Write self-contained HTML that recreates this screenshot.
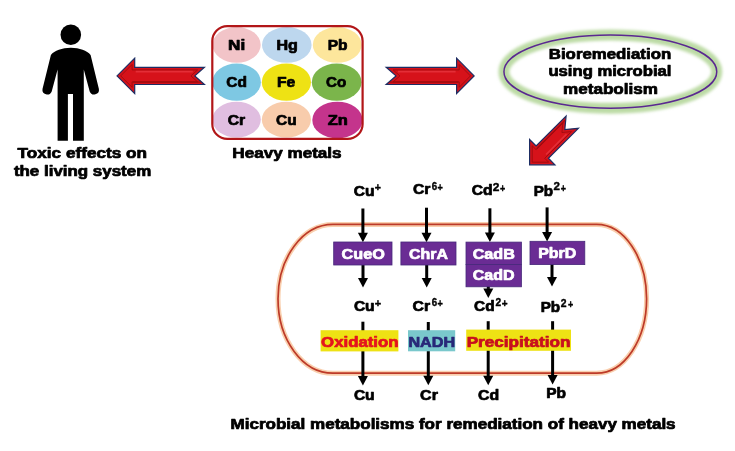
<!DOCTYPE html>
<html><head><meta charset="utf-8">
<style>
html,body{margin:0;padding:0;background:#fff;}
svg{display:block;will-change:transform;}
text{font-family:"Liberation Sans",sans-serif;font-weight:bold;}
</style></head>
<body>
<svg width="735" height="451" viewBox="0 0 735 451">
<defs>
<filter id="glowg" x="-20%" y="-40%" width="140%" height="180%"><feGaussianBlur stdDeviation="1.7"/></filter>
<filter id="glowo" x="-10%" y="-20%" width="120%" height="140%"><feGaussianBlur stdDeviation="0.7"/></filter>
</defs>
<rect width="735" height="451" fill="#fff"/>

<!-- person -->
<circle cx="70.8" cy="34.7" r="10.3" fill="#000"/>
<path d="M70.8,47.8 C62,47.8 54.5,50.8 50.9,54.9 L42.5,88.9 A4.8,4.8 0 0 0 51.7,91.4 L57.6,69.5 L57.6,140.8 L67.9,140.8 L67.9,94.1 L73,94.1 L73,140.8 L83.8,140.8 L83.8,69.5 L89.7,91.4 A4.8,4.8 0 0 0 98.9,88.9 L90.6,54.9 C87,50.8 79.6,47.8 70.8,47.8 Z" fill="#000"/>


<!-- heavy metals box -->
<g>
<clipPath id="boxclip"><rect x="212.3" y="26.1" width="150.3" height="112.8" rx="15" ry="15"/></clipPath>
<g clip-path="url(#boxclip)">
<ellipse cx="236.6" cy="44.95" rx="24.1" ry="17.9" fill="#f2c4c8"/>
<ellipse cx="286.8" cy="44.95" rx="24.8" ry="17.9" fill="#bdd7ee"/>
<ellipse cx="337.2" cy="44.95" rx="24.4" ry="17.9" fill="#fde69c"/>
<ellipse cx="236.65" cy="82.15" rx="24.25" ry="18.65" fill="#7ec8e3"/>
<ellipse cx="286.4" cy="82.15" rx="24.6" ry="18.65" fill="#eee214"/>
<ellipse cx="336.65" cy="82.15" rx="24.85" ry="18.65" fill="#7bb54b"/>
<ellipse cx="236.6" cy="119.6" rx="24.2" ry="17.9" fill="#e0bee0"/>
<ellipse cx="286.4" cy="119.6" rx="24.6" ry="17.9" fill="#f8ccac"/>
<ellipse cx="337.4" cy="120.1" rx="25.1" ry="18.4" fill="#c4348c"/>
</g>
<rect x="212.3" y="26.1" width="150.3" height="112.8" rx="15" ry="15" fill="none" stroke="#b21618" stroke-width="2.2"/>
</g>

<!-- ellipse bioremediation -->
<ellipse cx="610.35" cy="71.7" rx="106.4" ry="36.6" fill="none" stroke="#bddba6" stroke-width="11" filter="url(#glowg)"/>
<ellipse cx="610.35" cy="71.7" rx="106.4" ry="36.6" fill="none" stroke="#bcdaa6" stroke-width="5"/>
<ellipse cx="610.35" cy="71.7" rx="106.4" ry="36.6" fill="none" stroke="#5a2890" stroke-width="1.5"/>

<polygon points="117.00,75.90 134.70,93.60 134.70,84.50 204.40,84.50 194.80,75.90 204.40,67.30 134.70,67.30 134.70,58.20" fill="#d6121a" stroke="#1d2d63" stroke-width="1.2" stroke-linejoin="miter"/><polygon points="120.68,75.90 132.10,87.32 132.10,81.90 197.60,81.90 190.90,75.90 197.60,69.90 132.10,69.90 132.10,64.48" fill="none" stroke="#9a0a0e" stroke-width="1" stroke-opacity="0.85"/><line x1="135.70" y1="71.60" x2="192.80" y2="71.60" stroke="#ea3a44" stroke-width="1.6" stroke-opacity="0.7"/><line x1="133.20" y1="82.20" x2="200.90" y2="82.20" stroke="#9a0a0e" stroke-width="1.3" stroke-opacity="0.8"/>
<polygon points="474.10,75.90 456.60,58.20 456.60,67.30 386.20,67.30 396.00,75.90 386.20,84.50 456.60,84.50 456.60,93.60" fill="#d6121a" stroke="#1d2d63" stroke-width="1.2" stroke-linejoin="miter"/><polygon points="470.44,75.90 459.20,64.53 459.20,69.90 393.10,69.90 399.94,75.90 393.10,81.90 459.20,81.90 459.20,87.27" fill="none" stroke="#9a0a0e" stroke-width="1" stroke-opacity="0.85"/><line x1="455.60" y1="71.60" x2="398.00" y2="71.60" stroke="#ea3a44" stroke-width="1.6" stroke-opacity="0.7"/><line x1="458.10" y1="82.20" x2="389.70" y2="82.20" stroke="#9a0a0e" stroke-width="1.3" stroke-opacity="0.8"/>
<polygon points="529.60,164.80 554.91,164.80 548.41,158.29 578.39,128.31 564.81,129.59 566.09,116.01 536.11,145.99 529.60,139.49" fill="#d6121a" stroke="#1d2d63" stroke-width="1.2" stroke-linejoin="miter"/><polygon points="532.20,162.20 548.64,162.20 544.73,158.29 571.45,131.58 561.93,132.47 562.82,122.95 536.11,149.67 532.20,145.76" fill="none" stroke="#9a0a0e" stroke-width="1" stroke-opacity="0.85"/><line x1="546.08" y1="154.55" x2="566.51" y2="134.11" stroke="#ea3a44" stroke-width="1.6" stroke-opacity="0.7"/><line x1="536.67" y1="148.68" x2="565.24" y2="120.11" stroke="#9a0a0e" stroke-width="1.3" stroke-opacity="0.8"/>

<path d="M333,224.4 L596.6,224.4 A50,74.4 0 0 1 596.6,373.2 L333,373.2 A55,74.4 0 0 1 333,224.4 Z" fill="none" stroke="#f9cfae" stroke-width="5" filter="url(#glowo)"/>
<path d="M333,224.4 L596.6,224.4 A50,74.4 0 0 1 596.6,373.2 L333,373.2 A55,74.4 0 0 1 333,224.4 Z" fill="none" stroke="#bd3a28" stroke-width="1.7"/>
<line x1="362.9" y1="321.7" x2="362.9" y2="376.6" stroke="#000" stroke-width="3"/><polygon points="357.9,376.1 367.9,376.1 362.9,385.6" fill="#000"/>
<line x1="428.3" y1="322" x2="428.3" y2="376.2" stroke="#000" stroke-width="3"/><polygon points="423.3,375.7 433.3,375.7 428.3,385.2" fill="#000"/>
<line x1="488.2" y1="321.2" x2="488.2" y2="376.2" stroke="#000" stroke-width="3"/><polygon points="483.2,375.7 493.2,375.7 488.2,385.2" fill="#000"/>
<line x1="552.6" y1="321.2" x2="552.6" y2="375.6" stroke="#000" stroke-width="3"/><polygon points="547.6,375.1 557.6,375.1 552.6,384.6" fill="#000"/>
<line x1="362.9" y1="208.5" x2="362.9" y2="233.2" stroke="#000" stroke-width="3"/><polygon points="357.9,232.7 367.9,232.7 362.9,242.2" fill="#000"/>
<line x1="426.5" y1="207.7" x2="426.5" y2="233.2" stroke="#000" stroke-width="3"/><polygon points="421.5,232.7 431.5,232.7 426.5,242.2" fill="#000"/>
<line x1="489.9" y1="208.3" x2="489.9" y2="233.0" stroke="#000" stroke-width="3"/><polygon points="484.9,232.5 494.9,232.5 489.9,242" fill="#000"/>
<line x1="547.1" y1="207.4" x2="547.1" y2="232.4" stroke="#000" stroke-width="3"/><polygon points="542.1,231.9 552.1,231.9 547.1,241.4" fill="#000"/>
<line x1="363" y1="264" x2="363" y2="278.4" stroke="#000" stroke-width="3"/><polygon points="358.0,277.9 368.0,277.9 363,287.4" fill="#000"/>
<line x1="426.7" y1="264" x2="426.7" y2="278.4" stroke="#000" stroke-width="3"/><polygon points="421.7,277.9 431.7,277.9 426.7,287.4" fill="#000"/>
<line x1="488.3" y1="286" x2="488.3" y2="288.9" stroke="#000" stroke-width="3"/><polygon points="483.3,288.4 493.3,288.4 488.3,297.9" fill="#000"/>
<line x1="552" y1="264" x2="552" y2="277.4" stroke="#000" stroke-width="3"/><polygon points="547.0,276.9 557.0,276.9 552,286.4" fill="#000"/>
<rect x="333.7" y="242" width="58.3" height="23" fill="#6a2c94" stroke="#46287a" stroke-width="0.8"/>
<rect x="400.9" y="242" width="55.1" height="23" fill="#6a2c94" stroke="#46287a" stroke-width="0.8"/>
<rect x="466" y="242.1" width="55.4" height="22.4" fill="#6a2c94" stroke="#46287a" stroke-width="0.8"/>
<rect x="466" y="264.5" width="55.4" height="22.3" fill="#6a2c94" stroke="#46287a" stroke-width="0.8"/>
<rect x="530" y="241.3" width="54.8" height="23.3" fill="#6a2c94" stroke="#46287a" stroke-width="0.8"/>
<rect x="320.6" y="330.2" width="77.8" height="21.2" fill="#eee214"/>
<rect x="408" y="330.2" width="47.2" height="21.1" fill="#7ac8cc"/>
<rect x="466.2" y="329.6" width="104.8" height="21.2" fill="#eee214"/>

<text x="17.61" y="157.8" font-size="14" fill="#000" stroke="#000" stroke-width="0.7" stroke-linejoin="round" textLength="129.36" lengthAdjust="spacingAndGlyphs">Toxic effects on</text>
<text x="13.90" y="175.6" font-size="14" fill="#000" stroke="#000" stroke-width="0.7" stroke-linejoin="round" textLength="137.32" lengthAdjust="spacingAndGlyphs">the living system</text>
<text x="232.39" y="157.9" font-size="14" fill="#000" stroke="#000" stroke-width="0.7" stroke-linejoin="round" textLength="109.23" lengthAdjust="spacingAndGlyphs">Heavy metals</text>
<text x="548.80" y="58.8" font-size="14" fill="#000" stroke="#000" stroke-width="0.7" stroke-linejoin="round" textLength="122.39" lengthAdjust="spacingAndGlyphs">Bioremediation</text>
<text x="548.41" y="76.3" font-size="14" fill="#000" stroke="#000" stroke-width="0.7" stroke-linejoin="round" textLength="123.05" lengthAdjust="spacingAndGlyphs">using microbial</text>
<text x="563.09" y="93.6" font-size="14" fill="#000" stroke="#000" stroke-width="0.7" stroke-linejoin="round" textLength="94.90" lengthAdjust="spacingAndGlyphs">metabolism</text>
<text x="230.49" y="428.6" font-size="14" fill="#000" stroke="#000" stroke-width="0.7" stroke-linejoin="round" textLength="445.12" lengthAdjust="spacingAndGlyphs">Microbial metabolisms for remediation of heavy metals</text>
<text x="228.09" y="49.8" font-size="14" fill="#000" stroke="#000" stroke-width="0.7" stroke-linejoin="round" textLength="17.13" lengthAdjust="spacingAndGlyphs">Ni</text>
<text x="276.43" y="49.8" font-size="14" fill="#000" stroke="#000" stroke-width="0.7" stroke-linejoin="round" textLength="21.45" lengthAdjust="spacingAndGlyphs">Hg</text>
<text x="327.65" y="49.8" font-size="14" fill="#000" stroke="#000" stroke-width="0.7" stroke-linejoin="round" textLength="19.81" lengthAdjust="spacingAndGlyphs">Pb</text>
<text x="226.32" y="87" font-size="14" fill="#000" stroke="#000" stroke-width="0.7" stroke-linejoin="round" textLength="20.62" lengthAdjust="spacingAndGlyphs">Cd</text>
<text x="276.94" y="87" font-size="14" fill="#000" stroke="#000" stroke-width="0.7" stroke-linejoin="round" textLength="18.26" lengthAdjust="spacingAndGlyphs">Fe</text>
<text x="326.03" y="87.2" font-size="14" fill="#000" stroke="#000" stroke-width="0.7" stroke-linejoin="round" textLength="20.26" lengthAdjust="spacingAndGlyphs">Co</text>
<text x="227.72" y="124.6" font-size="14" fill="#000" stroke="#000" stroke-width="0.7" stroke-linejoin="round" textLength="17.47" lengthAdjust="spacingAndGlyphs">Cr</text>
<text x="276.12" y="124.6" font-size="14" fill="#000" stroke="#000" stroke-width="0.7" stroke-linejoin="round" textLength="20.62" lengthAdjust="spacingAndGlyphs">Cu</text>
<text x="327.80" y="125.1" font-size="14" fill="#000" stroke="#000" stroke-width="0.7" stroke-linejoin="round" textLength="20.12" lengthAdjust="spacingAndGlyphs">Zn</text>
<text x="353.82" y="195.5" font-size="14" fill="#000" stroke="#000" stroke-width="0.7" stroke-linejoin="round" textLength="20.72" lengthAdjust="spacingAndGlyphs">Cu</text>
<text x="374.85" y="191.25" font-size="10.5" fill="#000" stroke="#000" stroke-width="0.35" stroke-linejoin="round" textLength="6.19" lengthAdjust="spacingAndGlyphs">+</text>
<text x="412.92" y="194.4" font-size="14" fill="#000" stroke="#000" stroke-width="0.7" stroke-linejoin="round" textLength="17.47" lengthAdjust="spacingAndGlyphs">Cr</text>
<text x="431.76" y="189.85" font-size="10" fill="#000" stroke="#000" stroke-width="0.35" stroke-linejoin="round" textLength="5.40" lengthAdjust="spacingAndGlyphs">6</text>
<text x="437.57" y="190.6" font-size="10" fill="#000" stroke="#000" stroke-width="0.35" stroke-linejoin="round" textLength="5.31" lengthAdjust="spacingAndGlyphs">+</text>
<text x="471.82" y="195.2" font-size="14" fill="#000" stroke="#000" stroke-width="0.7" stroke-linejoin="round" textLength="20.83" lengthAdjust="spacingAndGlyphs">Cd</text>
<text x="492.70" y="190.65" font-size="10" fill="#000" stroke="#000" stroke-width="0.35" stroke-linejoin="round" textLength="6.67" lengthAdjust="spacingAndGlyphs">2</text>
<text x="499.88" y="192.0" font-size="10" fill="#000" stroke="#000" stroke-width="0.35" stroke-linejoin="round" textLength="5.21" lengthAdjust="spacingAndGlyphs">+</text>
<text x="533.66" y="195.5" font-size="14" fill="#000" stroke="#000" stroke-width="0.7" stroke-linejoin="round" textLength="19.39" lengthAdjust="spacingAndGlyphs">Pb</text>
<text x="553.61" y="190.35" font-size="10" fill="#000" stroke="#000" stroke-width="0.35" stroke-linejoin="round" textLength="6.45" lengthAdjust="spacingAndGlyphs">2</text>
<text x="560.78" y="192.0" font-size="10" fill="#000" stroke="#000" stroke-width="0.35" stroke-linejoin="round" textLength="5.21" lengthAdjust="spacingAndGlyphs">+</text>
<text x="353.92" y="310.9" font-size="14" fill="#000" stroke="#000" stroke-width="0.7" stroke-linejoin="round" textLength="20.72" lengthAdjust="spacingAndGlyphs">Cu</text>
<text x="374.74" y="306.85" font-size="10.5" fill="#000" stroke="#000" stroke-width="0.35" stroke-linejoin="round" textLength="6.41" lengthAdjust="spacingAndGlyphs">+</text>
<text x="412.52" y="310.9" font-size="14" fill="#000" stroke="#000" stroke-width="0.7" stroke-linejoin="round" textLength="17.57" lengthAdjust="spacingAndGlyphs">Cr</text>
<text x="431.76" y="306.35" font-size="10" fill="#000" stroke="#000" stroke-width="0.35" stroke-linejoin="round" textLength="5.40" lengthAdjust="spacingAndGlyphs">6</text>
<text x="437.57" y="307.2" font-size="10" fill="#000" stroke="#000" stroke-width="0.35" stroke-linejoin="round" textLength="5.31" lengthAdjust="spacingAndGlyphs">+</text>
<text x="474.13" y="310.9" font-size="14" fill="#000" stroke="#000" stroke-width="0.7" stroke-linejoin="round" textLength="20.51" lengthAdjust="spacingAndGlyphs">Cd</text>
<text x="495.64" y="306.35" font-size="10" fill="#000" stroke="#000" stroke-width="0.35" stroke-linejoin="round" textLength="5.67" lengthAdjust="spacingAndGlyphs">2</text>
<text x="501.85" y="307.4" font-size="10" fill="#000" stroke="#000" stroke-width="0.35" stroke-linejoin="round" textLength="5.84" lengthAdjust="spacingAndGlyphs">+</text>
<text x="540.66" y="311.8" font-size="14" fill="#000" stroke="#000" stroke-width="0.7" stroke-linejoin="round" textLength="19.39" lengthAdjust="spacingAndGlyphs">Pb</text>
<text x="560.74" y="306.95" font-size="10" fill="#000" stroke="#000" stroke-width="0.35" stroke-linejoin="round" textLength="5.79" lengthAdjust="spacingAndGlyphs">2</text>
<text x="567.88" y="308.0" font-size="10" fill="#000" stroke="#000" stroke-width="0.35" stroke-linejoin="round" textLength="5.21" lengthAdjust="spacingAndGlyphs">+</text>
<text x="353.92" y="399.5" font-size="14" fill="#000" stroke="#000" stroke-width="0.7" stroke-linejoin="round" textLength="20.72" lengthAdjust="spacingAndGlyphs">Cu</text>
<text x="420.11" y="399.5" font-size="14" fill="#000" stroke="#000" stroke-width="0.7" stroke-linejoin="round" textLength="17.77" lengthAdjust="spacingAndGlyphs">Cr</text>
<text x="478.12" y="399.5" font-size="14" fill="#000" stroke="#000" stroke-width="0.7" stroke-linejoin="round" textLength="21.14" lengthAdjust="spacingAndGlyphs">Cd</text>
<text x="546.25" y="397.8" font-size="14" fill="#000" stroke="#000" stroke-width="0.7" stroke-linejoin="round" textLength="19.81" lengthAdjust="spacingAndGlyphs">Pb</text>
<text x="341.61" y="258.8" font-size="14" fill="#fff" stroke="#fff" stroke-width="0.7" stroke-linejoin="round" textLength="43.19" lengthAdjust="spacingAndGlyphs">CueO</text>
<text x="409.02" y="258.6" font-size="14" fill="#fff" stroke="#fff" stroke-width="0.7" stroke-linejoin="round" textLength="38.87" lengthAdjust="spacingAndGlyphs">ChrA</text>
<text x="472.71" y="258.8" font-size="14" fill="#fff" stroke="#fff" stroke-width="0.7" stroke-linejoin="round" textLength="42.15" lengthAdjust="spacingAndGlyphs">CadB</text>
<text x="472.71" y="280.4" font-size="14" fill="#fff" stroke="#fff" stroke-width="0.7" stroke-linejoin="round" textLength="41.74" lengthAdjust="spacingAndGlyphs">CadD</text>
<text x="538.23" y="258.1" font-size="14" fill="#fff" stroke="#fff" stroke-width="0.7" stroke-linejoin="round" textLength="38.00" lengthAdjust="spacingAndGlyphs">PbrD</text>
<text x="321.10" y="347.4" font-size="14" fill="#e4141e" stroke="#e4141e" stroke-width="0.7" stroke-linejoin="round" textLength="77.37" lengthAdjust="spacingAndGlyphs">Oxidation</text>
<text x="408.42" y="347.2" font-size="14" fill="#282878" stroke="#282878" stroke-width="0.7" stroke-linejoin="round" textLength="46.69" lengthAdjust="spacingAndGlyphs">NADH</text>
<text x="466.69" y="346.9" font-size="14" fill="#c8101e" stroke="#c8101e" stroke-width="0.7" stroke-linejoin="round" textLength="103.68" lengthAdjust="spacingAndGlyphs">Precipitation</text>
</svg>
</body></html>
